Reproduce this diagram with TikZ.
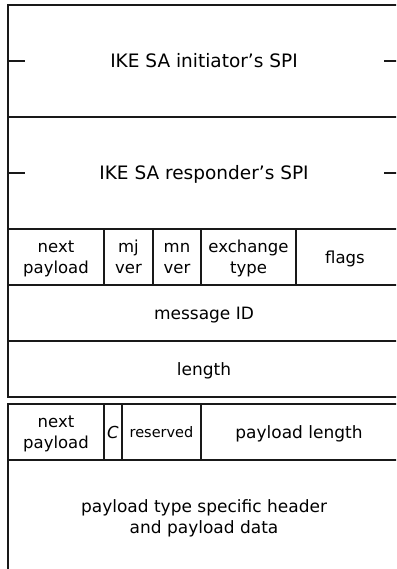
\documentclass[tikz,border=0pt]{standalone}
\usepackage{fontspec}
\setmainfont{DejaVu Sans}
\begin{document}
\begin{tikzpicture}[x=1pt,y=-1pt,
  rule/.style={line width=1.8pt, draw=black!90, line cap=rect},
  txt/.style={anchor=base, inner sep=0pt},
  titlelbl/.style={txt, font=\fontsize{18.5}{22}\selectfont},
  rowlbl/.style={txt, font=\fontsize{17}{21}\selectfont},
  lbl/.style={txt, font=\fontsize{16.5}{21}\selectfont},
  smalllbl/.style={txt, font=\fontsize{14.5}{17}\selectfont}]
\useasboundingbox (0,0) rectangle (396,569);
\fill[white] (0,0) rectangle (396,569);
\clip (0,0) rectangle (396,569);
% first box
\draw[rule] (400,5) -- (8,5) -- (8,397) -- (400,397);
\foreach \y in {117,229,285,341} \draw[rule] (8,\y) -- (400,\y);
\foreach \x in {104,153,201,296} \draw[rule] (\x,229) -- (\x,285);
% ticks
\draw[rule] (8,61) -- (24,61);
\draw[rule] (385,61) -- (400,61);
\draw[rule] (8,173) -- (24,173);
\draw[rule] (385,173) -- (400,173);
% second box
\draw[rule] (400,404) -- (8,404) -- (8,575);
\draw[rule] (8,460) -- (400,460);
\foreach \x in {104,122,201} \draw[rule] (\x,404) -- (\x,460);
% labels
\node[titlelbl] (ispi) at (204,68) {IKE SA initiator's SPI};
\node[titlelbl] (rspi) at (204,180) {IKE SA responder's SPI};
\node[lbl] (np1a) at (56,252) {next};
\node[lbl] (np1b) at (56,273) {payload};
\node[lbl] (mja) at (128.5,252) {mj};
\node[lbl] (mjb) at (128.5,273) {ver};
\node[lbl] (mna) at (177,252) {mn};
\node[lbl] (mnb) at (177,273) {ver};
\node[lbl] (exa) at (248.5,252) {exchange};
\node[lbl] (exb) at (248.5,273) {type};
\node[lbl] (fl) at (345,263) {flags};
\node[rowlbl] (mid) at (204,319) {message ID};
\node[rowlbl] (len) at (204,375) {length};
\node[lbl] (np2a) at (56,427) {next};
\node[lbl] (np2b) at (56,448) {payload};
\node[lbl] (c) at (113,438) {\itshape C};
\node[smalllbl] (res) at (161.5,437) {reserved};
\node[rowlbl] (pl) at (299,438) {payload length};
\node[rowlbl] (data1) at (204,512) {payload type specific header};
\node[rowlbl] (data2) at (204,533) {and payload data};
\end{tikzpicture}
\end{document}
